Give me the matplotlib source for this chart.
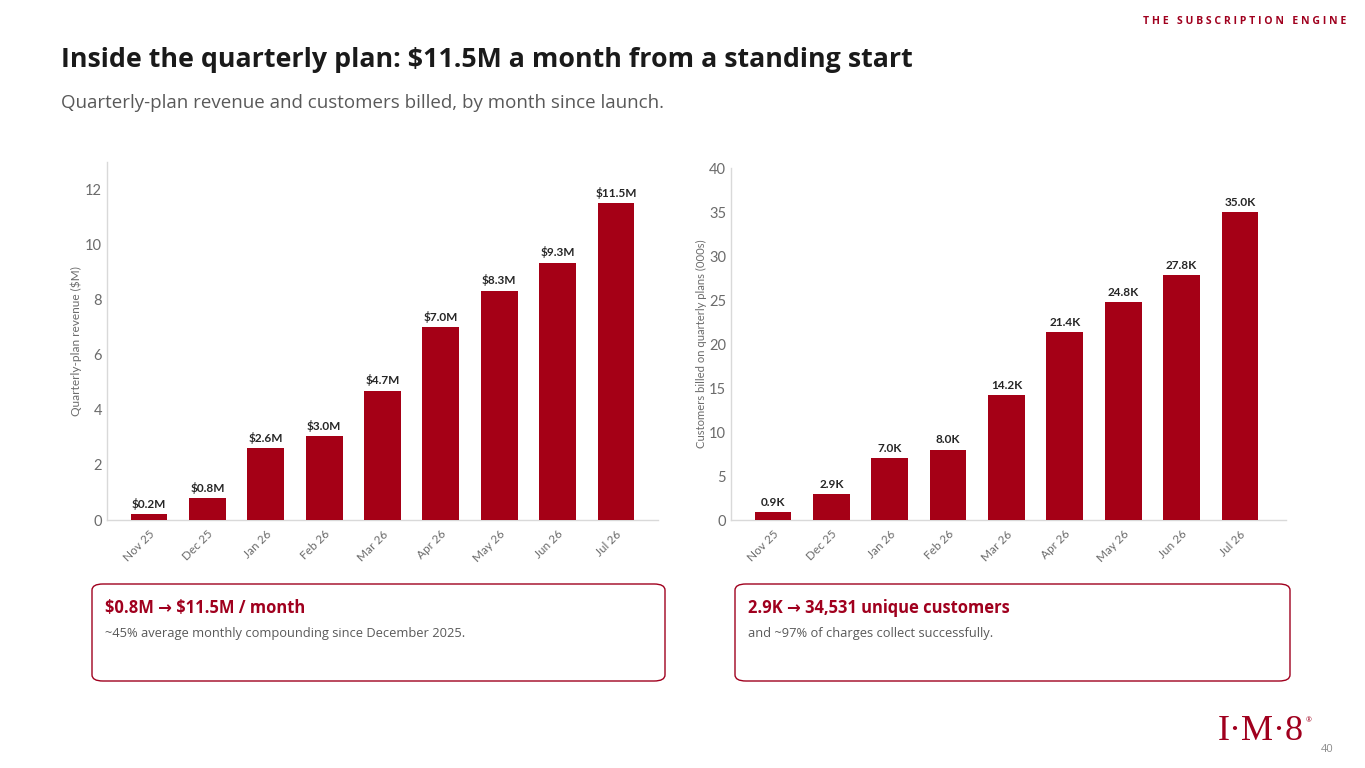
import matplotlib
matplotlib.use("Agg")
import matplotlib.pyplot as plt
from matplotlib.patches import FancyBboxPatch

W, H = 1365, 768
RED = "#a50016"
DARK_RED = "#a0001e"
GRAY = "#595959"
TICK_GRAY = "#6b6b6b"
SPINE = "#d9d9d9"

months = ["Nov 25", "Dec 25", "Jan 26", "Feb 26", "Mar 26",
          "Apr 26", "May 26", "Jun 26", "Jul 26"]
revenue_m = [0.2, 0.8, 2.6, 3.05, 4.7, 7.0, 8.33, 9.35, 11.5]
revenue_labels = ["$0.2M", "$0.8M", "$2.6M", "$3.0M", "$4.7M",
                  "$7.0M", "$8.3M", "$9.3M", "$11.5M"]
customers_k = [0.9, 2.9, 7.0, 8.0, 14.2, 21.4, 24.8, 27.8, 35.0]
customer_labels = ["0.9K", "2.9K", "7.0K", "8.0K", "14.2K",
                   "21.4K", "24.8K", "27.8K", "35.0K"]

TITLE = "Inside the quarterly plan: $11.5M a month from a standing start"
SUBTITLE = "Quarterly-plan revenue and customers billed, by month since launch."
HEADER = "T H E   S U B S C R I P T I O N   E N G I N E"
cards = [
    ("$0.8M \u2192 $11.5M / month",
     "~45% average monthly compounding since December 2025."),
    ("2.9K \u2192 34,531 unique customers",
     "and ~97% of charges collect successfully."),
]

SANS = ["Open Sans", "DejaVu Sans"]
CHART = ["Lato", "DejaVu Sans"]


def fx(px):
    return px / W


def fy(py):
    return 1 - py / H


def bar_panel(ax, values, labels, ylim, yticks, ylabel, offset, label_x, label_size):
    x = range(len(values))
    ax.bar(x, values, width=0.63, color=RED, zorder=3)
    for xi, v, lab in zip(x, values, labels):
        ax.annotate(lab, (xi, v), xytext=(0, 3), textcoords="offset points",
                    ha="center", va="bottom", fontsize=8.5, fontweight="bold",
                    color="#262626", family=CHART, parse_math=False)
    ax.set_xlim(-0.72, len(values) - 1 + offset)
    ax.set_ylim(*ylim)
    ax.set_yticks(yticks)
    ax.set_xticks(list(x))
    ax.set_xticklabels(months, rotation=45, ha="right", va="top",
                       rotation_mode="anchor", family=CHART, fontsize=8.5,
                       color=TICK_GRAY)
    for t in ax.get_yticklabels():
        t.set_family(CHART)
    ax.tick_params(axis="y", length=0, pad=3.5, labelsize=10.5, labelcolor=TICK_GRAY)
    ax.tick_params(axis="x", length=0, pad=6)
    for s in ("top", "right"):
        ax.spines[s].set_visible(False)
    for s in ("left", "bottom"):
        ax.spines[s].set_color(SPINE)
        ax.spines[s].set_linewidth(1.0)
    ax.set_ylabel(ylabel, family=CHART, fontsize=label_size, color=TICK_GRAY)
    ax.yaxis.set_label_coords(label_x, 0.5)


fig = plt.figure(figsize=(W / 100, H / 100), dpi=100)
fig.patch.set_facecolor("white")

ax1 = fig.add_axes([fx(107), fy(520), fx(658 - 107), (520 - 162) / H])
bar_panel(ax1, revenue_m, revenue_labels, (0, 13), range(0, 13, 2),
          "Quarterly-plan revenue ($M)", 0.72, -0.046, 8.6)

ax2 = fig.add_axes([fx(731), fy(520), fx(1286 - 731), (520 - 168) / H])
bar_panel(ax2, customers_k, customer_labels, (0, 40), range(0, 41, 5),
          "Customers billed on quarterly plans (000s)", 0.79, -0.043, 8.1)

# header, title, subtitle
fig.text(fx(1346), fy(22), HEADER, ha="right", va="center", fontsize=7.6,
         fontweight="bold", color=DARK_RED, family=SANS)
fig.text(fx(61), fy(60), TITLE, ha="left", va="center", fontsize=19.3,
         fontweight="bold", color="#1a1a1a", family=SANS, parse_math=False)
fig.text(fx(61), fy(103), SUBTITLE, ha="left", va="center", fontsize=13.5,
         color=GRAY, family=SANS)

# takeaway cards
boxes = [(92, 665), (735, 1290)]
for (x0, x1), (head, body) in zip(boxes, cards):
    card = FancyBboxPatch((fx(x0), fy(681)), fx(x1 - x0), (681 - 584) / H,
                          boxstyle="round,pad=0,rounding_size=0.008",
                          transform=fig.transFigure, facecolor="white",
                          edgecolor=DARK_RED, linewidth=1.0)
    fig.add_artist(card)
    fig.text(fx(x0 + 13), fy(608), head, ha="left", va="center", fontsize=11.9,
             fontweight="bold", color=DARK_RED, family=SANS, parse_math=False)
    fig.text(fx(x0 + 13), fy(634), body, ha="left", va="center", fontsize=9.3,
             color=GRAY, family=SANS)

# logo + page number
fig.text(fx(1304), fy(731), "I\u00b7M\u00b78", ha="right", va="center",
         fontsize=26, color=DARK_RED, family=["Liberation Serif", "DejaVu Serif"])
fig.text(fx(1306), fy(721), "\u00ae", ha="left", va="center", fontsize=5,
         color=DARK_RED, family=SANS)
fig.text(fx(1334), fy(750), "40", ha="right", va="center", fontsize=8,
         color="#8c8c8c", family=SANS)

fig.savefig("out.png", dpi=100, facecolor="white")
